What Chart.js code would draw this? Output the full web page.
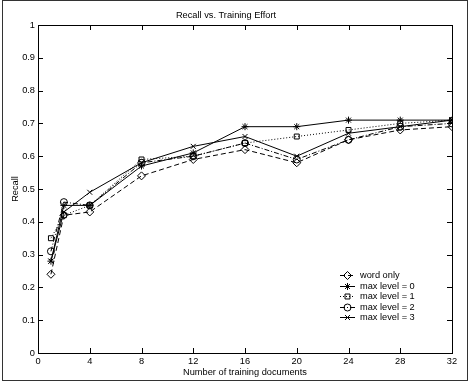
<!DOCTYPE html>
<html lang="en">
<head>
  <meta charset="UTF-8">
  <title>Recall vs. Training Effort</title>
  <script src="https://cdn.jsdelivr.net/npm/chart.js"></script>
  <style>
    html, body { margin: 0; padding: 0; background: #fff; }
  </style>
</head>
<body>
  <canvas id="recallChart" width="472" height="382"></canvas>

  <script>
    // values
    const docs = [1, 2, 4, 8, 12, 16, 20, 24, 28, 32];
    const wordOnly  = [0.24, 0.42, 0.43, 0.54, 0.59, 0.62, 0.58, 0.65, 0.68, 0.69];
    const maxLevel0 = [0.28, 0.45, 0.45, 0.57, 0.61, 0.69, 0.69, 0.71, 0.71, 0.71];
    const maxLevel1 = [0.35, 0.42, 0.45, 0.59, 0.60, 0.64, 0.66, 0.68, 0.70, 0.71];
    const maxLevel2 = [0.31, 0.46, 0.45, 0.58, 0.60, 0.64, 0.59, 0.65, 0.69, 0.70];
    const maxLevel3 = [0.28, 0.43, 0.49, 0.58, 0.63, 0.66, 0.60, 0.67, 0.69, 0.71];
    const xTicks = [0, 4, 8, 12, 16, 20, 24, 28, 32];
    const yTicks = [0, 0.1, 0.2, 0.3, 0.4, 0.5, 0.6, 0.7, 0.8, 0.9, 1];

    const FONT = '"Liberation Sans", Arial, sans-serif';
    Chart.defaults.font.family = FONT;
    Chart.defaults.font.size = 9.25;
    Chart.defaults.color = '#000';

    function series(label, values, style, radius, dash) {
      return {
        label: label,
        data: docs.map((d, i) => ({ x: d, y: values[i] })),
        borderColor: '#000',
        borderWidth: 1,
        borderDash: dash,
        pointStyle: style,
        pointRadius: radius,
        pointBorderColor: '#000',
        pointBackgroundColor: 'rgba(0,0,0,0)',
        pointBorderWidth: 1,
        fill: false,
        tension: 0
      };
    }

    // outer frame, axes box with inward ticks, legend
    const figurePlugin = {
      id: 'figure',
      beforeDraw(chart) {
        const ctx = chart.ctx;
        ctx.save();
        ctx.fillStyle = '#fff';
        ctx.fillRect(0, 0, chart.width, chart.height);
        ctx.strokeStyle = '#333';
        ctx.lineWidth = 1;
        ctx.strokeRect(2.5, 0.5, 465, 380);
        ctx.restore();
      },
      afterDraw(chart) {
        const ctx = chart.ctx;
        const a = chart.chartArea;
        const xs = chart.scales.x, ys = chart.scales.y;
        const tl = 5;
        ctx.save();
        ctx.strokeStyle = '#000';
        ctx.lineWidth = 1;
        ctx.strokeRect(Math.round(a.left) + 0.5, Math.round(a.top) + 0.5,
          Math.round(a.right - a.left), Math.round(a.bottom - a.top));
        ctx.beginPath();
        xTicks.forEach(t => {
          const px = Math.round(xs.getPixelForValue(t)) + 0.5;
          ctx.moveTo(px, a.bottom); ctx.lineTo(px, a.bottom - tl);
          ctx.moveTo(px, a.top); ctx.lineTo(px, a.top + tl);
        });
        yTicks.forEach(t => {
          const py = Math.round(ys.getPixelForValue(t)) + 0.5;
          ctx.moveTo(a.left, py); ctx.lineTo(a.left + tl, py);
          ctx.moveTo(a.right, py); ctx.lineTo(a.right - tl, py);
        });
        ctx.stroke();

        // legend
        const lx = a.right - 112, ly = a.bottom - 78;
        ctx.font = '9.25px ' + FONT;
        ctx.textBaseline = 'middle';
        ctx.fillStyle = '#000';
        chart.data.datasets.forEach((ds, i) => {
          const y = Math.round(ly + i * 10.6) + 0.5;
          ctx.save();
          ctx.setLineDash(ds.borderDash || []);
          ctx.beginPath();
          ctx.moveTo(lx, y); ctx.lineTo(lx + 15, y);
          ctx.stroke();
          ctx.restore();
          ctx.save();
          ctx.fillStyle = 'rgba(0,0,0,0)';
          ctx.strokeStyle = '#000';
          Chart.helpers.drawPoint(ctx, {
            pointStyle: ds.pointStyle, radius: ds.pointRadius, rotation: 0, borderWidth: 1
          }, lx + 7.5, y);
          ctx.restore();
          ctx.fillText(ds.label, lx + 20, y);
        });
        ctx.restore();
      }
    };

    const ctx = document.getElementById('recallChart').getContext('2d');
    new Chart(ctx, {
      type: 'line',
      data: {
        datasets: [
          series('word only', wordOnly, 'rectRot', 4, [5, 3]),
          series('max level = 0', maxLevel0, 'star', 3.5, []),
          series('max level = 1', maxLevel1, 'rect', 3.5, [1, 2]),
          series('max level = 2', maxLevel2, 'circle', 3.5, [5, 2, 1, 2]),
          series('max level = 3', maxLevel3, 'crossRot', 3.5, [])
        ]
      },
      options: {
        responsive: false,
        animation: false,
        layout: { padding: { top: 0, left: 0, right: 20, bottom: 0 } },
        plugins: {
          legend: { display: false },
          tooltip: { enabled: false },
          title: {
            display: true,
            text: 'Recall vs. Training Effort',
            font: { size: 9.25, weight: 'normal' },
            color: '#000',
            padding: { top: 10.4, bottom: 3.5 }
          }
        },
        scales: {
          x: {
            type: 'linear',
            min: 0,
            max: 32,
            afterFit: s => { s.height = 29; },
            afterBuildTicks: s => { s.ticks = xTicks.map(v => ({ value: v })); },
            grid: { display: false, drawTicks: false },
            border: { display: false },
            ticks: { padding: 3, maxRotation: 0, autoSkip: false },
            title: {
              display: true,
              text: 'Number of training documents',
              padding: { top: 0, bottom: 4 }
            }
          },
          y: {
            type: 'linear',
            min: 0,
            max: 1,
            afterFit: s => { s.width = 38; },
            afterBuildTicks: s => { s.ticks = yTicks.map(v => ({ value: v })); },
            grid: { display: false, drawTicks: false },
            border: { display: false },
            ticks: {
              padding: 3,
              autoSkip: false,
              callback: v => String(+v.toFixed(1))
            },
            title: {
              display: true,
              text: 'Recall',
              padding: { top: 9.5, bottom: 0 }
            }
          }
        }
      },
      plugins: [figurePlugin]
    });
  </script>
</body>
</html>
